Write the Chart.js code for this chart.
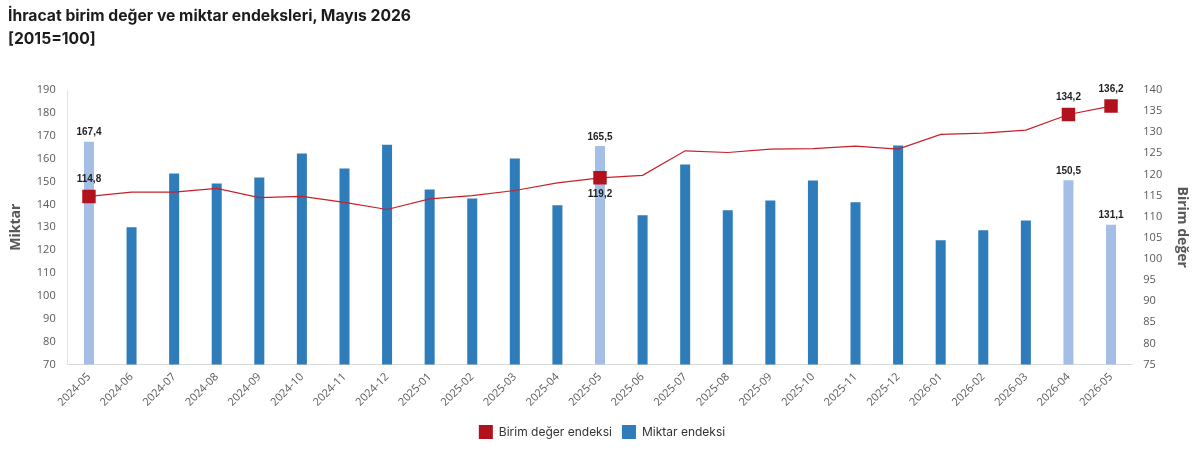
<!DOCTYPE html>
<html lang="tr">
<head>
<meta charset="utf-8">
<title>İhracat birim değer ve miktar endeksleri</title>
<script src="https://cdn.jsdelivr.net/npm/chart.js@4.4.1/dist/chart.umd.min.js"></script>
<style>
  html, body { margin: 0; padding: 0; background: #fff; }
  #wrap { position: relative; width: 1200px; height: 457px; }
  #title {
    position: absolute; left: 8px; top: 4px;
    font: bold 15.7px/23px Inter, sans-serif; color: #1c1c1c;
  }
</style>
</head>
<body>
<div id="wrap">
  <div id="title">İhracat birim değer ve miktar endeksleri, Mayıs 2026<br>[2015=100]</div>
  <canvas id="myChart"></canvas>
</div>
<script>
const months = [
  "2024-05", "2024-06", "2024-07", "2024-08", "2024-09", "2024-10", "2024-11",
  "2024-12", "2025-01", "2025-02", "2025-03", "2025-04", "2025-05", "2025-06",
  "2025-07", "2025-08", "2025-09", "2025-10", "2025-11", "2025-12", "2026-01",
  "2026-02", "2026-03", "2026-04", "2026-05",
];
const miktar = [
  167.4, 130.0, 153.5, 149.1, 151.7, 162.2, 155.7, 166.1, 146.5, 142.6, 160.0,
  139.6, 165.5, 135.2, 157.4, 137.4, 141.7, 150.4, 140.9, 165.7, 124.3, 128.7,
  133.0, 150.5, 131.1,
];
const birimDeger = [
  114.8, 115.8, 115.8, 116.7, 114.5, 114.8, 113.4, 111.7, 114.2, 115.0, 116.2,
  118.0, 119.2, 119.8, 125.6, 125.2, 126.0, 126.1, 126.7, 126.0, 129.5, 129.8,
  130.5, 134.2, 136.2,
];
// months that get a marker, a light bar and value labels
const highlighted = ["2024-05", "2025-05", "2026-04", "2026-05"];
// the line label goes under the marker here
const labelBelow = ["2025-05"];

const darkBlue = "#2e7cb9";
const lightBlue = "#a5bee6";
const red = "#b2121c";

const isHi = (i) => highlighted.includes(months[i]);
const fmt = (v) => v.toFixed(1).replace(".", ",");

// simple value labels (no datalabels plugin available)
const valueLabels = {
  id: "valueLabels",
  afterDatasetsDraw(chart) {
    const ctx = chart.ctx;
    ctx.save();
    ctx.font = "bold 10px 'Liberation Sans', Arial, sans-serif";
    ctx.fillStyle = "#1f1f1f";
    ctx.textAlign = "center";
    ctx.textBaseline = "middle";
    chart.data.datasets.forEach((ds, di) => {
      const meta = chart.getDatasetMeta(di);
      meta.data.forEach((el, i) => {
        if (!isHi(i)) return;
        const v = ds.data[i];
        if (ds.type === "bar") {
          ctx.fillText(fmt(v), el.x, el.y - 9);
        } else {
          const below = labelBelow.includes(months[i]);
          ctx.fillText(fmt(v), el.x, below ? el.y + 16 : el.y - 17);
        }
      });
    });
    ctx.restore();
  },
};

const ctx = document.getElementById("myChart").getContext("2d");
const myChart = new Chart(ctx, {
  data: {
    labels: months,
    datasets: [
      {
        type: "line",
        label: "Birim değer endeksi",
        data: birimDeger,
        yAxisID: "y1",
        order: 0,
        borderColor: "#c8202a",
        backgroundColor: red,
        borderWidth: 1.2,
        tension: 0,
        pointStyle: "rect",
        pointRadius: months.map((m, i) => (isHi(i) ? 9.5 : 0)),
        pointHoverRadius: months.map((m, i) => (isHi(i) ? 9.5 : 0)),
        pointBackgroundColor: red,
        pointBorderColor: red,
        pointBorderWidth: 0,
      },
      {
        type: "bar",
        label: "Miktar endeksi",
        data: miktar,
        yAxisID: "y",
        order: 1,
        backgroundColor: months.map((m, i) => (isHi(i) ? lightBlue : darkBlue)),
        borderWidth: 0,
        barPercentage: 0.235,
        categoryPercentage: 1,
      },
    ],
  },
  options: {
    responsive: true,
    maintainAspectRatio: false,
    animation: false,
    layout: { padding: { left: 6, right: 2, top: 90, bottom: 8 } },
    plugins: {
      title: { display: false },
      legend: {
        position: "bottom",
        labels: {
          boxWidth: 14,
          boxHeight: 14,
          color: "#333",
          font: { family: "Inter", size: 12 },
          padding: 10,
          generateLabels(chart) {
            const items = Chart.defaults.plugins.legend.labels.generateLabels(chart);
            items.forEach((it) => {
              const ds = chart.data.datasets[it.datasetIndex];
              const c = ds.type === "bar" ? darkBlue : red;
              it.fillStyle = c;
              it.strokeStyle = c;
              it.lineWidth = 0;
            });
            return items;
          },
        },
      },
      tooltip: { enabled: false },
    },
    scales: {
      x: {
        grid: { display: false, drawTicks: false },
        border: { display: true, color: "#d9d9d9" },
        ticks: {
          color: "#595959",
          font: { family: "'Open Sans'", size: 11 },
          minRotation: 45,
          maxRotation: 45,
          autoSkip: false,
          padding: 6,
        },
      },
      y: {
        position: "left",
        min: 70,
        max: 190,
        grid: { display: false, drawTicks: false },
        border: { display: true, color: "#e3e3e3" },
        ticks: {
          stepSize: 10,
          color: "#595959",
          font: { family: "'Open Sans'", size: 11 },
          padding: 12,
        },
        title: {
          display: true,
          text: "Miktar",
          color: "#595959",
          font: { family: "'Open Sans'", size: 14, weight: "bold" },
          padding: { top: 2, bottom: 0 },
        },
      },
      y1: {
        position: "right",
        min: 75,
        max: 140,
        grid: { display: false, drawTicks: false },
        border: { display: false },
        ticks: {
          stepSize: 5,
          color: "#595959",
          font: { family: "'Open Sans'", size: 11 },
          padding: 11,
        },
        title: {
          display: true,
          text: "Birim değer",
          color: "#595959",
          font: { family: "'Open Sans'", size: 14, weight: "bold" },
          padding: { top: 8, bottom: 0 },
        },
      },
    },
  },
  plugins: [valueLabels],
});
</script>
</body>
</html>
